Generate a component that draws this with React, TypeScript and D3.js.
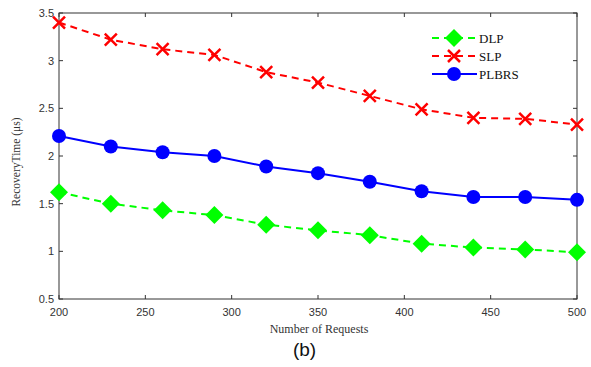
import React from "react";
import * as d3 from "d3";

const requests = [200, 230, 260, 290, 320, 350, 380, 410, 440, 470, 500];
const dlp = [1.62, 1.5, 1.43, 1.38, 1.28, 1.22, 1.17, 1.08, 1.04, 1.02, 0.99];
const slp = [3.4, 3.22, 3.12, 3.06, 2.88, 2.77, 2.63, 2.49, 2.4, 2.39, 2.33];
const plbrs = [2.21, 2.1, 2.04, 2.0, 1.89, 1.82, 1.73, 1.63, 1.57, 1.57, 1.54];
const xTicks = [200, 250, 300, 350, 400, 450, 500];
const yTicks = [0.5, 1, 1.5, 2, 2.5, 3, 3.5];
const seriesNames = ["DLP", "SLP", "PLBRS"];

const W = 591, H = 367;
const L = 59, R = 577, T = 13, B = 299;

export default function App() {
  const x = d3.scaleLinear().domain([200, 500]).range([L, R]);
  const y = d3.scaleLinear().domain([0.5, 3.5]).range([B, T]);
  const line = d3.line<number>().x((_, i) => x(requests[i])).y((d) => y(d));

  const diamond = (cx: number, cy: number, s: number) =>
    `M${cx},${cy - s}L${cx + s},${cy}L${cx},${cy + s}L${cx - s},${cy}Z`;
  const cross = (cx: number, cy: number, s: number) =>
    `M${cx - s},${cy - s}L${cx + s},${cy + s}M${cx - s},${cy + s}L${cx + s},${cy - s}`;

  const marker = (k: number, cx: number, cy: number, key: any) => {
    if (k === 0) return <path key={key} d={diamond(cx, cy, 9)} fill="#00ff00" />;
    if (k === 1) return <path key={key} d={cross(cx, cy, 6)} stroke="#ff0000" strokeWidth={2.5} fill="none" />;
    return <circle key={key} cx={cx} cy={cy} r={7} fill="#0000ff" />;
  };
  const colors = ["#00ff00", "#ff0000", "#0000ff"];
  const dashes = ["7,5", "7,5", undefined];
  const data = [dlp, slp, plbrs];

  return (
    <svg width={W} height={H} style={{ position: "absolute", left: 0, top: 0, background: "#fff" }}>
      <rect x={0} y={0} width={W} height={H} fill="#fff" />
      {xTicks.map((t) => (
        <g key={"xt" + t}>
          <line x1={x(t)} x2={x(t)} y1={B} y2={B - 4} stroke="#333" />
          <line x1={x(t)} x2={x(t)} y1={T} y2={T + 4} stroke="#333" />
          <text x={x(t)} y={B + 17} textAnchor="middle" fontFamily="Liberation Sans, Arial, sans-serif" fontSize={11} fill="#333">{t}</text>
        </g>
      ))}
      {yTicks.map((t) => (
        <g key={"yt" + t}>
          <line x1={L} x2={L + 4} y1={y(t)} y2={y(t)} stroke="#333" />
          <line x1={R} x2={R - 4} y1={y(t)} y2={y(t)} stroke="#333" />
          <text x={L - 5} y={y(t) + 4} textAnchor="end" fontFamily="Liberation Sans, Arial, sans-serif" fontSize={11} fill="#333">{t}</text>
        </g>
      ))}
      <rect x={L} y={T} width={R - L} height={B - T} fill="none" stroke="#333" strokeWidth={1} />
      {data.map((d, k) => (
        <g key={"s" + k}>
          <path d={line(d) || ""} fill="none" stroke={colors[k]} strokeWidth={2} strokeDasharray={dashes[k]} />
          {d.map((v, i) => marker(k, x(requests[i]), y(v), i))}
        </g>
      ))}
      {seriesNames.map((n, k) => {
        const ly = 38 + k * 18;
        return (
          <g key={"lg" + n}>
            <line x1={432} x2={477} y1={ly} y2={ly} stroke={colors[k]} strokeWidth={2} strokeDasharray={dashes[k]} />
            {marker(k, 454, ly, "m")}
            <text x={479} y={ly + 5} fontFamily="Liberation Serif, Times New Roman, serif" fontSize={13} fill="#111">{n}</text>
          </g>
        );
      })}
      <text transform={`translate(20,162) rotate(-90)`} textAnchor="middle" fontFamily="Liberation Serif, Times New Roman, serif" fontSize={11.5} fill="#333">RecoveryTime (μs)</text>
      <text x={319} y={333} textAnchor="middle" fontFamily="Liberation Serif, Times New Roman, serif" fontSize={12} fill="#333">Number of Requests</text>
      <text x={304.5} y={356} textAnchor="middle" fontFamily="Liberation Sans, Arial, sans-serif" fontSize={19} fill="#111">(b)</text>
    </svg>
  );
}
